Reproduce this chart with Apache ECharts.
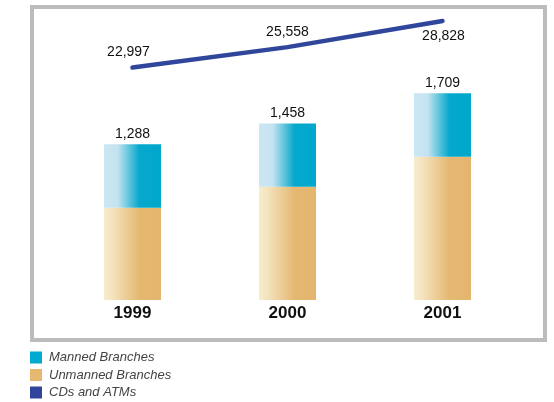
<!DOCTYPE html>
<html>
<head>
<meta charset="utf-8">
<script src="https://cdn.jsdelivr.net/npm/echarts@6/dist/echarts.min.js"></script>
<style>
  html, body { margin: 0; padding: 0; background: #ffffff; }
  #chart { width: 554px; height: 402px; }
</style>
</head>
<body>
<div id="chart"></div>
<script>
// Branch network by year
var years = ['1999', '2000', '2001'];
var mannedBranches = [525, 522, 525];
var unmannedBranches = [763, 936, 1184];
var cdsAndAtms = [22997, 25558, 28828];

var seriesNames = ['Manned Branches', 'Unmanned Branches', 'CDs and ATMs'];

var valueFont = '"Liberation Sans", sans-serif';

function fmt(v) {
  return Number(v).toLocaleString('en-US');
}

var totals = years.map(function (_, i) { return mannedBranches[i] + unmannedBranches[i]; });

function hGrad(stops) {
  return new echarts.graphic.LinearGradient(0, 0, 1, 0, stops);
}

var mannedFill = hGrad([
  { offset: 0, color: '#cbe7f3' },
  { offset: 0.24, color: '#c4e3f0' },
  { offset: 0.62, color: '#06a8cc' },
  { offset: 1, color: '#00a8cc' }
]);
var unmannedFill = hGrad([
  { offset: 0, color: '#f7ecce' },
  { offset: 0.15, color: '#f4e3bd' },
  { offset: 0.62, color: '#e5b872' },
  { offset: 1, color: '#e4b56d' }
]);

// label placement for the CDs/ATMs line: first two above, last one below
var linePositions = ['top', 'top', 'bottom'];
var lineOffsets = [[-4, 0], [0, 0], [1, 0]];

var chart = echarts.init(document.getElementById('chart'), null, { renderer: 'canvas' });

chart.setOption({
  animation: false,
  backgroundColor: '#ffffff',
  graphic: [{
    type: 'rect',
    shape: { x: 32, y: 7, width: 513, height: 333 },
    style: { fill: 'none', stroke: '#bcbcbc', lineWidth: 4 },
    z: -10
  }],
  grid: { left: 55, width: 465, top: 20, bottom: 102 },
  legend: {
    orient: 'vertical',
    left: 30,
    top: 351,
    height: 120,
    padding: 0,
    itemWidth: 12,
    itemHeight: 12,
    itemGap: 4.5,
    icon: 'rect',
    selectedMode: false,
    textStyle: {
      fontFamily: '"Liberation Sans", sans-serif',
      fontStyle: 'italic',
      fontSize: 13,
      lineHeight: 12,
      color: '#444444',
      padding: [0, 0, 0, 2]
    },
    data: [
      { name: seriesNames[0], itemStyle: { color: '#00a9cd' } },
      { name: seriesNames[1], itemStyle: { color: '#e6b872' } },
      { name: seriesNames[2], itemStyle: { color: '#2f469b' } }
    ]
  },
  xAxis: {
    type: 'category',
    data: years,
    axisLine: { show: false },
    axisTick: { show: false },
    axisLabel: {
      margin: 5,
      color: '#111111',
      fontFamily: '"Liberation Sans", sans-serif',
      fontWeight: 'bold',
      fontSize: 17
    }
  },
  yAxis: [
    { type: 'value', min: 0, max: 2314, show: false, splitLine: { show: false } },
    { type: 'value', min: -6082, max: 28953, show: false, splitLine: { show: false } }
  ],
  series: [
    {
      name: seriesNames[1],
      type: 'bar',
      stack: 'branches',
      barWidth: 57,
      data: unmannedBranches,
      itemStyle: { color: unmannedFill }
    },
    {
      name: seriesNames[0],
      type: 'bar',
      stack: 'branches',
      barWidth: 57,
      data: mannedBranches,
      itemStyle: { color: mannedFill },
      label: {
        show: true,
        position: 'top',
        distance: 3,
        color: '#111111',
        fontFamily: valueFont,
        fontSize: 14,
        formatter: function (p) { return fmt(totals[p.dataIndex]); }
      }
    },
    {
      name: seriesNames[2],
      type: 'line',
      yAxisIndex: 1,
      symbol: 'circle',
      symbolSize: 2,
      z: 5,
      lineStyle: { color: '#2f469b', width: 4.5, cap: 'round', join: 'round' },
      itemStyle: { color: '#2f469b' },
      data: cdsAndAtms.map(function (v, i) {
        return {
          value: v,
          label: { position: linePositions[i], offset: lineOffsets[i] }
        };
      }),
      label: {
        show: true,
        distance: 7,
        color: '#111111',
        fontFamily: valueFont,
        fontSize: 14,
        formatter: function (p) { return fmt(p.value); }
      }
    }
  ]
});
</script>
</body>
</html>
